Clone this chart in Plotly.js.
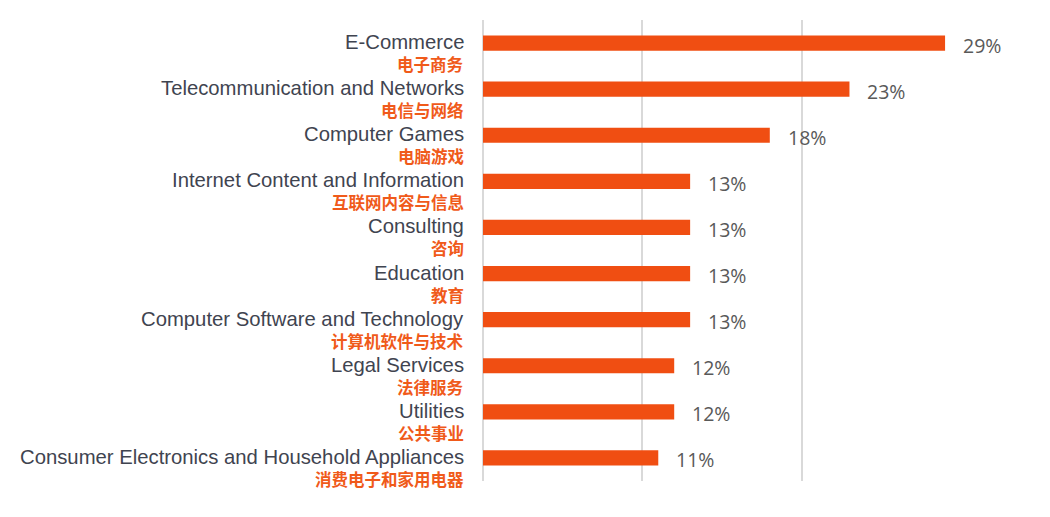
<!DOCTYPE html>
<html>
<head>
<meta charset="utf-8">
<script src="https://cdn.plot.ly/plotly-3.0.1.min.js"></script>
<style>html,body{margin:0;padding:0;background:#fff;}#chart{width:1050px;height:517px;}</style>
</head>
<body>
<div id="chart"></div>
<script>
const categoriesEn = [
  "E-Commerce",
  "Telecommunication and Networks",
  "Computer Games",
  "Internet Content and Information",
  "Consulting",
  "Education",
  "Computer Software and Technology",
  "Legal Services",
  "Utilities",
  "Consumer Electronics and Household Appliances"
];
const categoriesZh = [
  "电子商务",
  "电信与网络",
  "电脑游戏",
  "互联网内容与信息",
  "咨询",
  "教育",
  "计算机软件与技术",
  "法律服务",
  "公共事业",
  "消费电子和家用电器"
];
const values = [29, 23, 18, 13, 13, 13, 13, 12, 12, 11];

const barColor = "#F04E12";
const annotations = [];
categoriesEn.forEach((c, i) => {
  annotations.push({
    xref: "paper", yref: "y", x: 0, y: c, xanchor: "right", yanchor: "middle",
    xshift: -17, yshift: 1, text: c, showarrow: false,
    font: {family: "Liberation Sans, Arial, sans-serif", size: 20.3, color: "#3F4450"}
  });
  annotations.push({
    xref: "paper", yref: "y", x: 0, y: c, xanchor: "right", yanchor: "middle",
    xshift: -17, yshift: -21, text: "<b>" + categoriesZh[i] + "</b>", showarrow: false,
    font: {family: "Noto Sans CJK SC, sans-serif", size: 16.5, color: "#F05A1A"}
  });
  annotations.push({
    xref: "x", yref: "y", x: values[i], y: c, xanchor: "left", yanchor: "middle",
    xshift: 16, yshift: -2, text: values[i] + "%", showarrow: false,
    font: {family: "Open Sans, Liberation Sans, sans-serif", size: 19.5, color: "#595959"}
  });
});

const data = [{
  type: "bar",
  orientation: "h",
  x: values,
  y: categoriesEn,
  marker: {color: barColor},
  hoverinfo: "none"
}];

const layout = {
  width: 1050, height: 517,
  margin: {l: 483, r: 89, t: 20, b: 36, pad: 0},
  paper_bgcolor: "#fff", plot_bgcolor: "#fff",
  bargap: 0.67,
  showlegend: false,
  xaxis: {
    range: [0, 30], dtick: 10, tick0: 0, showticklabels: false,
    showgrid: true, gridcolor: "#D9D9D9", gridwidth: 2,
    zeroline: true, zerolinecolor: "#D9D9D9", zerolinewidth: 2,
    showline: false, fixedrange: true
  },
  yaxis: {
    type: "category", range: [9.5, -0.5], autorange: false, showticklabels: false,
    showgrid: false, zeroline: false, showline: false, ticks: ""
  },
  annotations: annotations
};

Plotly.newPlot("chart", data, layout, {displayModeBar: false, staticPlot: true});
</script>
</body>
</html>
